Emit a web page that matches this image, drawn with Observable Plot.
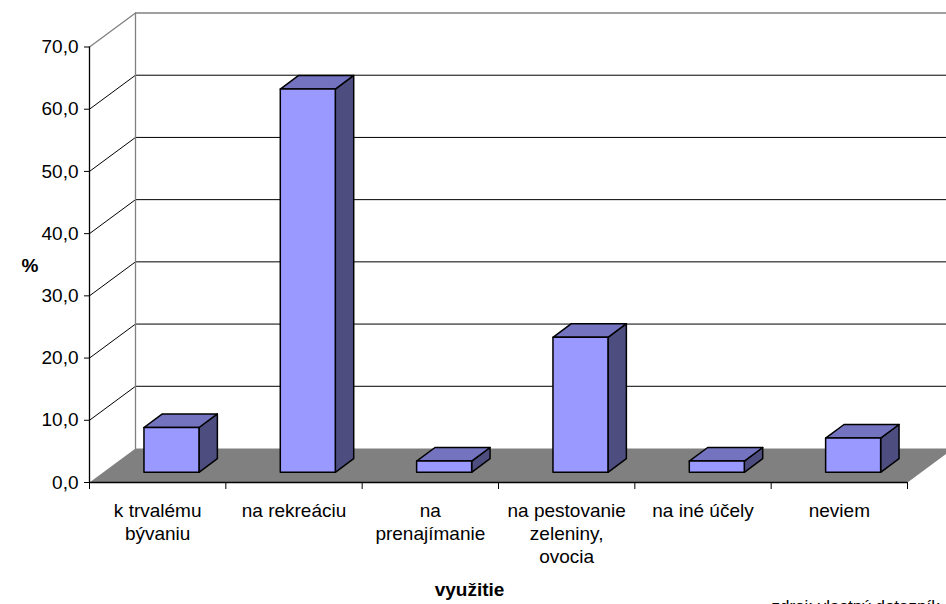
<!DOCTYPE html>
<html>
<head>
<meta charset="utf-8">
<script src="https://cdn.jsdelivr.net/npm/d3@7"></script>
<script src="https://cdn.jsdelivr.net/npm/@observablehq/plot@0.6"></script>
<style>
  html, body { margin: 0; padding: 0; background: #fff; overflow: hidden; }
  svg { display: block; }
</style>
</head>
<body>
<div id="chart"></div>
<script>
// ---- data ----
const categories = ["k trvalému\nbývaniu", "na rekreáciu", "na\nprenajímanie", "na pestovanie\nzeleniny,\novocia", "na iné účely", "neviem"];
const values = [7.2, 61.6, 1.8, 21.7, 1.8, 5.5];
const yTicks = [0, 10, 20, 30, 40, 50, 60, 70];
const yLabel = "%";
const xLabel = "využitie";
const caption = "zdroj: vlastný dotazník";

// ---- 3D geometry (style) ----
const W = 946, H = 604;
const mL = 89, mR = 39, mT = 46.5, mB = 122;
const n = categories.length;
const yMax = 70;
const pxPerX = (W - mL - mR) / n;
const pxPerY = (H - mT - mB) / yMax;
const DX = 46 / pxPerX;   // depth offset in x units
const DY = 34 / pxPerY;   // depth offset in y units
const f1 = 0.3, f2 = 0.7; // bar depth position
const bw = 0.4035;        // bar width in band units

function poly(id, pts) { return [...pts, pts[0]].map(([x, y]) => ({id, x, y})); }

const floor = poly("floor", [[0, 0], [n, 0], [n + DX, DY], [DX, DY]]);

const grid = yTicks.filter(t => t > 0 && t < yMax).flatMap(t =>
  [[0, t], [DX, t + DY], [n + DX, t + DY]].map(([x, y]) => ({id: t, x, y})));
const wallEdge = [
  ...[[0, yMax], [DX, yMax + DY], [n + DX, yMax + DY]].map(([x, y]) => ({id: "top", x, y})),
  ...[[DX, DY], [DX, yMax + DY]].map(([x, y]) => ({id: "left", x, y}))
];

const fronts = [], tops = [], sides = [];
values.forEach((v, i) => {
  const x0 = i + 0.5 - bw / 2 + f1 * DX, x1 = x0 + bw;
  const dd = (f2 - f1) * DX;
  const yb = f1 * DY, yt = v + f1 * DY, yt2 = v + f2 * DY, yb2 = f2 * DY;
  fronts.push(...poly("f" + i, [[x0, yb], [x1, yb], [x1, yt], [x0, yt]]));
  tops.push(...poly("t" + i, [[x0, yt], [x1, yt], [x1 + dd, yt2], [x0 + dd, yt2]]));
  sides.push(...poly("s" + i, [[x1, yb], [x1, yt], [x1 + dd, yt2], [x1 + dd, yb2]]));
});

const catData = categories.map((c, i) => ({i, c}));
const fmt = d => d.toFixed(1).replace(".", ",");

const chart = Plot.plot({
  width: W, height: H,
  marginLeft: mL, marginRight: mR, marginTop: mT, marginBottom: mB,
  x: {domain: [0, n], axis: null},
  y: {domain: [0, yMax], axis: null},
  style: {fontFamily: "'Liberation Sans', Arial, sans-serif", fontSize: "19px", background: "#fff", color: "#000", overflow: "visible"},
  marks: [
    Plot.line(floor, {x: "x", y: "y", z: "id", fill: "#808080", stroke: "none"}),
    Plot.line(grid, {x: "x", y: "y", z: "id", stroke: "#000", strokeWidth: 1}),
    Plot.line(wallEdge, {x: "x", y: "y", z: "id", stroke: "#808080", strokeWidth: 1.3}),
    Plot.ruleX([0], {y1: 0, y2: yMax, stroke: "#000", strokeWidth: 1.3}),
    Plot.ruleY([0], {x1: 0, x2: n, stroke: "#000", strokeWidth: 1.3}),
    Plot.axisY(yTicks, {tickSize: 5, tickPadding: 6, tickFormat: fmt, label: null, fontSize: 19, stroke: "#000"}),
    Plot.axisX(d3.range(n + 1), {tickSize: 7, tickFormat: () => "", label: null, stroke: "#000"}),
    Plot.line(sides, {x: "x", y: "y", z: "id", fill: "#4D4D80", stroke: "#000", strokeWidth: 1.5, strokeLinejoin: "round"}),
    Plot.line(tops, {x: "x", y: "y", z: "id", fill: "#7373BF", stroke: "#000", strokeWidth: 1.5, strokeLinejoin: "round"}),
    Plot.line(fronts, {x: "x", y: "y", z: "id", fill: "#9999FF", stroke: "#000", strokeWidth: 1.5, strokeLinejoin: "round"}),
    Plot.text(catData, {x: d => d.i + 0.5, y: 0, text: "c", lineAnchor: "top", dy: 18.5, lineHeight: 1.21, fontSize: 19, fill: "#000"}),
    Plot.text([yLabel], {frameAnchor: "left", dx: -68, dy: 1, fontWeight: "bold", fontSize: 19, fill: "#000"}),
    Plot.text([xLabel], {frameAnchor: "bottom", dx: -29, dy: 113, fontWeight: "bold", fontSize: 19, fill: "#000"}),
    Plot.text([caption], {frameAnchor: "bottom-left", textAnchor: "start", lineAnchor: "top", dx: 682, dy: 117, fontSize: 17, fill: "#000"})
  ]
});
document.getElementById("chart").appendChild(chart);
</script>
</body>
</html>
